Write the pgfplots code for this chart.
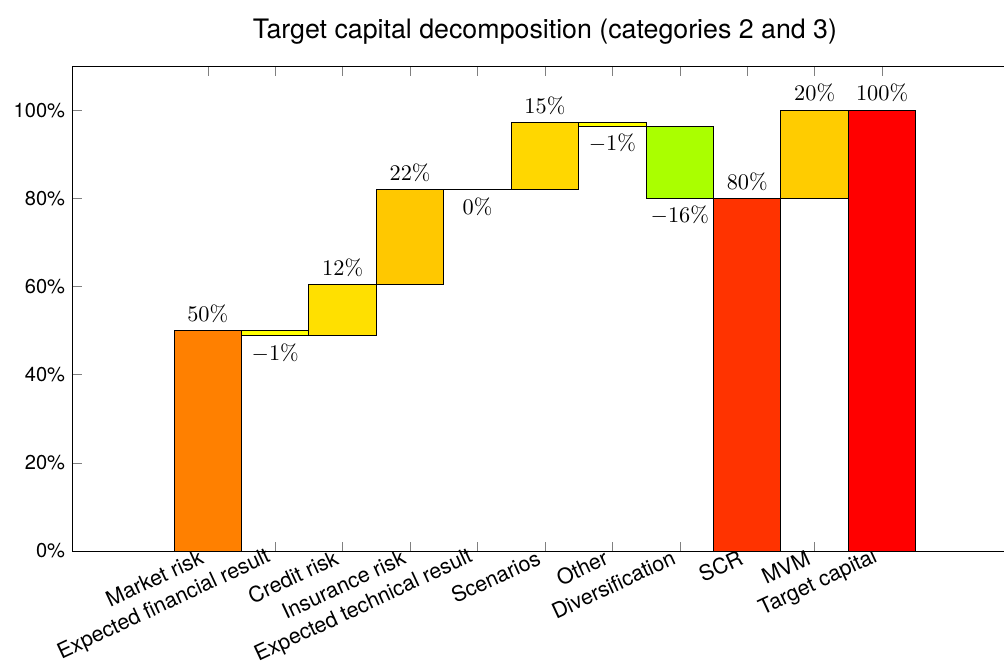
\documentclass[border=0pt]{standalone}
\usepackage{fontspec}
\usepackage{pgfplots}
\pgfplotsset{compat=1.18}
\newfontfamily\heros{TeX Gyre Heros}

\definecolor{cMarket}{RGB}{255,128,0}
\definecolor{cFin}{RGB}{255,255,0}
\definecolor{cCredit}{RGB}{255,224,0}
\definecolor{cIns}{RGB}{255,200,0}
\definecolor{cScen}{RGB}{255,215,0}
\definecolor{cOther}{RGB}{255,255,0}
\definecolor{cDiv}{RGB}{170,255,0}
\definecolor{cSCR}{RGB}{255,51,0}
\definecolor{cMVM}{RGB}{255,204,0}
\definecolor{cTarget}{RGB}{255,0,0}

\begin{document}
\begin{tikzpicture}
  \begin{axis}[
      scale only axis,
      width=423.3pt, height=217.5pt,
      xmin=-2, xmax=12, ymin=0, ymax=110,
      xtick={0,...,10},
      xticklabels={Market risk, Expected financial result, Credit risk, Insurance risk,
        Expected technical result, Scenarios, Other, Diversification, SCR, MVM, Target capital},
      ytick={0,20,...,100},
      yticklabels={0\%,20\%,40\%,60\%,80\%,100\%},
      tick label style={font=\heros\small},
      xticklabel style={rotate=25, anchor=east, yshift=-1pt,
        font=\heros\fontsize{9.6}{11}\selectfont},
      title={Target capital decomposition (categories 2 and 3)},
      title style={font=\heros\large},
    ]
    % one rectangle per step: (left,low) (right,low) (right,high) (left,high)
    \addplot[fill=cMarket, draw=black] coordinates {(-0.5,0) (0.5,0) (0.5,50) (-0.5,50)} -- cycle;
    \addplot[fill=cFin, draw=black] coordinates {(0.5,48.8) (1.5,48.8) (1.5,50) (0.5,50)} -- cycle;
    \addplot[fill=cCredit, draw=black] coordinates {(1.5,48.8) (2.5,48.8) (2.5,60.5) (1.5,60.5)} -- cycle;
    \addplot[fill=cIns, draw=black] coordinates {(2.5,60.5) (3.5,60.5) (3.5,82) (2.5,82)} -- cycle;
    \addplot[fill=cIns, draw=black] coordinates {(3.5,82) (4.5,82) (4.5,82) (3.5,82)} -- cycle;
    \addplot[fill=cScen, draw=black] coordinates {(4.5,82) (5.5,82) (5.5,97.1) (4.5,97.1)} -- cycle;
    \addplot[fill=cOther, draw=black] coordinates {(5.5,96.4) (6.5,96.4) (6.5,97.1) (5.5,97.1)} -- cycle;
    \addplot[fill=cDiv, draw=black] coordinates {(6.5,80) (7.5,80) (7.5,96.4) (6.5,96.4)} -- cycle;
    \addplot[fill=cSCR, draw=black] coordinates {(7.5,0) (8.5,0) (8.5,80) (7.5,80)} -- cycle;
    \addplot[fill=cMVM, draw=black] coordinates {(8.5,80) (9.5,80) (9.5,100) (8.5,100)} -- cycle;
    \addplot[fill=cTarget, draw=black] coordinates {(9.5,0) (10.5,0) (10.5,100) (9.5,100)} -- cycle;

    \addplot[
      draw=none, nodes near coords,
      point meta=explicit symbolic,
      visualization depends on={value \thisrow{anchor}\as\myanchor},
      every node near coord/.append style={anchor=\myanchor}
    ]
    table[meta=label] {
      x   y     label        anchor
      0   50    {$50\%$}     south
      1   48.8  {$-1\%$}     north
      2   60.5  {$12\%$}     south
      3   82    {$22\%$}     south
      4   82    {$0\%$}      north
      5   97.1  {$15\%$}     south
      6   96.4  {$-1\%$}     north
      7   80    {$-16\%$}    north
      8   80    {$80\%$}     south
      9   100   {$20\%$}     south
      10  100   {$100\%$}    south
    };
  \end{axis}
  \pgfresetboundingbox
  \path[use as bounding box]
    ([xshift=-32.7pt,yshift=-49.3pt]current axis.south west)
    rectangle ([xshift=-5.8pt,yshift=29.6pt]current axis.north east);
\end{tikzpicture}
\end{document}
